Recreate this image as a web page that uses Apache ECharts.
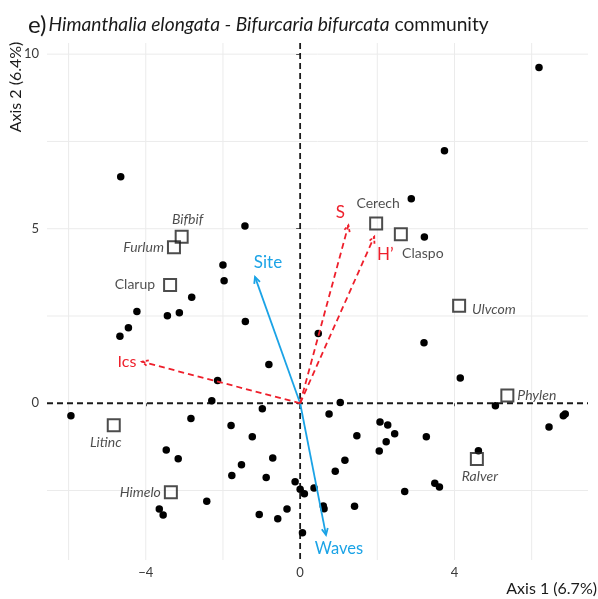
<!DOCTYPE html>
<html><head><meta charset="utf-8">
<script src="https://cdn.jsdelivr.net/npm/echarts@6/dist/echarts.min.js"></script>
<style>html,body{margin:0;padding:0;background:#fff}#c{width:598px;height:599px}</style>
</head><body><div id="c"></div>
<script>
// ---- data ----
const siteX = [-4.65,-1.43,-2.00,-1.97,-2.81,6.19,3.74,2.88,3.22,-4.23,-3.44,-3.13,-4.45,-4.67,-1.42,-0.81,-2.14,-2.29,-5.94,-2.83,-0.98,-1.79,-1.24,-3.47,-3.16,-0.71,-1.52,-1.77,-0.88,-0.13,0.00,0.11,-2.42,-3.65,-3.55,-1.06,-0.58,-0.34,0.06,0.47,3.21,4.15,5.06,1.04,0.75,6.82,6.87,6.45,2.07,2.27,2.45,1.47,3.27,2.23,2.05,4.62,1.16,0.91,0.36,3.49,3.61,2.71,0.60,0.62,1.41];
const siteY = [6.49,5.08,3.96,3.51,3.04,9.62,7.23,5.86,4.76,2.63,2.51,2.59,2.16,1.92,2.34,1.11,0.65,0.07,-0.36,-0.44,-0.16,-0.64,-0.96,-1.34,-1.59,-1.57,-1.76,-2.07,-2.13,-2.25,-2.46,-2.59,-2.81,-3.03,-3.20,-3.19,-3.31,-3.03,-3.71,2.00,1.73,0.72,-0.07,0.02,-0.31,-0.36,-0.31,-0.68,-0.54,-0.62,-0.87,-0.93,-0.96,-1.10,-1.37,-1.36,-1.63,-1.95,-2.43,-2.29,-2.40,-2.53,-2.94,-3.02,-2.95];
const speciesNames = ['Bifbif','Furlum','Clarup','Cerech','Claspo','Ulvcom','Phylen','Ralver','Litinc','Himelo'];
const speciesX = [-3.07,-3.27,-3.37,1.97,2.61,4.12,5.37,4.58,-4.83,-3.35];
const speciesY = [4.77,4.47,3.39,5.15,4.84,2.79,0.22,-1.60,-0.63,-2.55];
const vectorNames = ['Site','Waves','S','H\u2019','Ics'];
const vectorX = [-1.17,0.67,1.25,1.92,-4.10];
const vectorY = [3.62,-3.77,5.10,4.77,1.19];
const xTickLabels = [-4,0,4];
const yTickLabels = [0,5,10];
const xGridLines = [-6,-4,-2,2,4,6];
const yGridLines = [-2.5,2.5,5,7.5,10];
const zeroLines = [0];

// ---- styles (not data) ----
const FONT = 'Lato, "DejaVu Sans", sans-serif';
const RED = '#ee1f2b', BLUE = '#1ba3e6', INK = '#1a1a1a';
const vectorStyle = {
  'Site':  {color: BLUE, dash: null, size: 17, dx: 13, dy: -14},
  'Waves': {color: BLUE, dash: null, size: 16.5, dx: 13, dy: 14},
  'S':     {color: RED, dash: [6,4], size: 17, dx: -8, dy: -13},
  'H\u2019': {color: RED, dash: [6,4], size: 17, dx: 11, dy: 18},
  'Ics':   {color: RED, dash: [6,4], size: 16, dx: -15, dy: 0}
};
const speciesLabel = {
  'Bifbif': {position: 'top', distance: 3, offset: [6, 0], italic: true},
  'Furlum': {position: 'left', distance: 3, offset: [0, 0], italic: true},
  'Clarup': {position: 'left', distance: 8, offset: [0, 0], italic: false},
  'Cerech': {position: 'top', distance: 6, offset: [2, 0], italic: false},
  'Claspo': {position: 'bottom', distance: 5, offset: [22, 0], italic: false},
  'Ulvcom': {position: 'right', distance: 6, offset: [0, 4], italic: true},
  'Phylen': {position: 'right', distance: 3, offset: [0, 0], italic: true},
  'Ralver': {position: 'bottom', distance: 3, offset: [3, 0], italic: true},
  'Litinc': {position: 'bottom', distance: 3, offset: [-8, 0], italic: true},
  'Himelo': {position: 'left', distance: 3, offset: [0, 0], italic: true}
};

const chart = echarts.init(document.getElementById('c'), null, {renderer: 'canvas'});

const siteData = siteX.map((x, i) => [x, siteY[i]]);
const speciesData = speciesNames.map((n, i) => {
  const s = speciesLabel[n];
  return {
    name: n, value: [speciesX[i], speciesY[i]],
    label: {show: true, formatter: n, position: s.position, distance: s.distance, offset: s.offset,
      fontStyle: s.italic ? 'italic' : 'normal', fontFamily: FONT, fontSize: 14, color: '#1f1f1f'}
  };
});
const vectorData = vectorNames.map((n, i) => [vectorX[i], vectorY[i], n]);

function renderLines(xs, ys, style) {
  return function (params, api) {
    const cs = params.coordSys;
    const kids = [];
    xs.forEach(v => {
      const p = api.coord([v, 0]);
      kids.push({type: 'line', shape: {x1: p[0], y1: cs.y, x2: p[0], y2: cs.y + cs.height}, style: style});
    });
    ys.forEach(v => {
      const p = api.coord([0, v]);
      kids.push({type: 'line', shape: {x1: cs.x, y1: p[1], x2: cs.x + cs.width, y2: p[1]}, style: style});
    });
    return {type: 'group', children: kids};
  };
}

function renderArrow(params, api) {
  const o = api.coord([0, 0]);
  const e = api.coord([api.value(0), api.value(1)]);
  const name = vectorNames[params.dataIndex];
  const st = vectorStyle[name];
  const ang = Math.atan2(e[1] - o[1], e[0] - o[0]);
  const L = 7, A = 0.45;
  const p1 = [e[0] - L * Math.cos(ang - A), e[1] - L * Math.sin(ang - A)];
  const p2 = [e[0] - L * Math.cos(ang + A), e[1] - L * Math.sin(ang + A)];
  const ls = {stroke: st.color, lineWidth: 1.8, fill: null};
  if (st.dash) ls.lineDash = st.dash;
  const hs = {stroke: st.color, lineWidth: 1.8, fill: null};
  if (st.dash) hs.lineDash = [3, 2];
  return {
    type: 'group',
    children: [
      {type: 'line', shape: {x1: o[0], y1: o[1], x2: e[0], y2: e[1]}, style: ls},
      {type: 'polyline', shape: {points: [p1, e, p2]}, style: hs},
      {type: 'text', style: {text: name, x: e[0] + st.dx, y: e[1] + st.dy, fill: st.color,
        font: st.size + 'px ' + FONT, align: 'center', verticalAlign: 'middle'}}
    ]
  };
}

const option = {
  backgroundColor: '#fff',
  animation: false,
  title: {
    left: 23, top: 8,
    text: '{a|e)}{b|Himanthalia elongata - Bifurcaria bifurcata}{c| community}',
    textStyle: {
      fontWeight: 'normal',
      rich: {
        a: {fontSize: 24, fontFamily: FONT, fontWeight: 'normal', color: INK, padding: [0, 2, 0, 0]},
        b: {fontSize: 19.2, fontFamily: FONT, fontWeight: 'normal', fontStyle: 'italic', color: INK},
        c: {fontSize: 19.2, fontFamily: FONT, fontWeight: 'normal', color: INK}
      }
    }
  },
  grid: {left: 47, right: 10, top: 43, bottom: 39, containLabel: false},
  xAxis: {
    type: 'value', min: -6.56, max: 7.46,
    axisLine: {show: false},
    splitLine: {show: false},
    axisTick: {show: true, length: 3, lineStyle: {color: '#555'}, customValues: xTickLabels},
    axisLabel: {customValues: xTickLabels, margin: 6, fontSize: 13, fontFamily: FONT, color: '#3a3a3a',
      formatter: v => (v < 0 ? '\u2212' + Math.abs(v) : String(v))}
  },
  yAxis: {
    type: 'value', min: -4.49, max: 10.32,
    axisLine: {show: false},
    splitLine: {show: false},
    axisTick: {show: true, length: 4, lineStyle: {color: '#555'}, customValues: yTickLabels},
    axisLabel: {customValues: yTickLabels, margin: 8, fontSize: 13, fontFamily: FONT, color: '#3a3a3a'}
  },
  graphic: [
    {type: 'text', x: 16, y: 87, rotation: Math.PI / 2,
      style: {text: 'Axis 2 (6.4%)', font: '16px ' + FONT, fill: INK, align: 'center', verticalAlign: 'middle'}},
    {type: 'text', x: 597, y: 589,
      style: {text: 'Axis 1 (6.7%)', font: '16px ' + FONT, fill: INK, align: 'right', verticalAlign: 'middle'}}
  ],
  series: [
    {
      type: 'custom', data: [[0, 0]], silent: true, z: 0, clip: true,
      renderItem: renderLines(xGridLines, yGridLines, {stroke: '#ebebeb', lineWidth: 1})
    },
    {
      type: 'custom', data: [[0, 0]], silent: true, z: 1, clip: true,
      renderItem: renderLines(zeroLines, zeroLines, {stroke: INK, lineWidth: 1.8, lineDash: [6, 4]})
    },
    {
      type: 'scatter', data: siteData, symbol: 'circle', symbolSize: 7.5, z: 3,
      itemStyle: {color: '#000', opacity: 1}
    },
    {
      type: 'scatter', data: speciesData, symbol: 'rect', symbolSize: 12, z: 4,
      itemStyle: {color: 'rgba(255,255,255,0)', borderColor: '#1f1f1f', borderWidth: 2}
    },
    {
      type: 'custom', data: vectorData, renderItem: renderArrow, z: 5,
      encode: {x: 0, y: 1}
    }
  ]
};
chart.setOption(option);
</script></body></html>
